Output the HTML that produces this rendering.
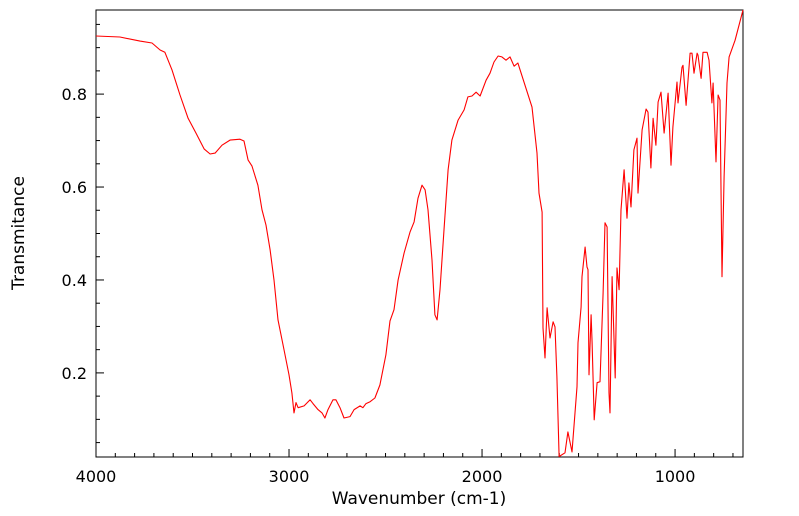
<!DOCTYPE html>
<html><head><meta charset="utf-8"><style>
body{margin:0;background:#fff;}
svg{display:block;font-family:"DejaVu Sans","Liberation Sans",sans-serif;}
</style></head><body>
<svg id="chart" width="799" height="516" viewBox="0 0 799 516"></svg>
<script>
const wavenumbers=[4000,3876,3772,3710,3668,3643,3606,3565,3523,3482,3440,3409,3383,3347,3306,3254,3233,3212,3192,3161,3140,3119,3098,3078,3057,3026,3000,2985,2974,2964,2953,2922,2891,2876,2850,2829,2814,2798,2772,2757,2736,2715,2684,2663,2632,2617,2601,2580,2555,2529,2498,2477,2456,2435,2404,2373,2352,2332,2311,2295,2280,2259,2244,2233,2218,2197,2176,2156,2124,2093,2073,2052,2031,2010,1979,1959,1938,1917,1897,1876,1855,1834,1814,1803,1741,1715,1705,1689,1684,1674,1663,1648,1632,1622,1612,1601,1570,1555,1534,1508,1503,1487,1482,1466,1456,1451,1446,1435,1430,1419,1404,1389,1373,1363,1352,1342,1337,1326,1310,1301,1290,1280,1264,1249,1239,1228,1213,1197,1192,1171,1150,1140,1125,1114,1099,1088,1073,1057,1036,1021,1011,990,985,964,959,943,922,912,902,886,881,865,855,834,824,809,803,788,777,767,757,746,731,720,689,648];
const transmittance=[0.925,0.923,0.914,0.910,0.895,0.890,0.852,0.798,0.748,0.716,0.682,0.671,0.673,0.690,0.701,0.703,0.699,0.658,0.645,0.604,0.551,0.518,0.465,0.400,0.314,0.250,0.196,0.157,0.114,0.136,0.125,0.129,0.142,0.134,0.121,0.114,0.103,0.121,0.142,0.142,0.125,0.103,0.106,0.121,0.129,0.125,0.134,0.138,0.146,0.174,0.239,0.312,0.336,0.400,0.458,0.503,0.525,0.576,0.604,0.594,0.551,0.443,0.325,0.314,0.379,0.508,0.637,0.701,0.744,0.766,0.794,0.796,0.804,0.796,0.830,0.845,0.869,0.882,0.880,0.873,0.880,0.860,0.867,0.852,0.772,0.673,0.587,0.546,0.297,0.232,0.340,0.275,0.310,0.299,0.192,0.020,0.028,0.073,0.030,0.170,0.265,0.342,0.407,0.471,0.428,0.422,0.196,0.325,0.265,0.099,0.179,0.181,0.372,0.523,0.514,0.157,0.114,0.407,0.189,0.426,0.379,0.551,0.637,0.533,0.609,0.557,0.680,0.705,0.587,0.723,0.768,0.761,0.641,0.748,0.690,0.783,0.804,0.716,0.802,0.647,0.729,0.826,0.781,0.858,0.862,0.776,0.888,0.888,0.845,0.888,0.884,0.834,0.890,0.890,0.873,0.781,0.824,0.654,0.798,0.787,0.407,0.622,0.824,0.880,0.916,0.981];
const xTickValues=[4000,3000,2000,1000];
const xTickLabels=["4000","3000","2000","1000"];
const yTickValues=[0.2,0.4,0.6,0.8];
const yTickLabels=["0.2","0.4","0.6","0.8"];

const L=96,R=743,T=10,B=457;
const X0=4000,X1=648,Y0=0.019,Y1=0.981;
const sx=v=>L+(X0-v)/(X0-X1)*(R-L);
const sy=v=>B-(v-Y0)/(Y1-Y0)*(B-T);
const svg=document.getElementById('chart');
const NS='http://www.w3.org/2000/svg';
function mk(tag,attrs){const e=document.createElementNS(NS,tag);for(const k in attrs)e.setAttribute(k,attrs[k]);svg.appendChild(e);return e;}

const frame=mk('rect',{x:L,y:T,width:R-L,height:B-T,fill:'none',stroke:'#000','stroke-width':1});



for(let w=4000;w>=700;w-=100){
  const major=w%1000===0;
  const t=mk('line',{x1:sx(w),x2:sx(w),y1:B,y2:B-(major?8:4),stroke:'#000','stroke-width':1});
  
  
}
xTickValues.forEach((v,i)=>{
  const t=mk('text',{x:sx(v),y:482,'text-anchor':'middle','font-size':16,fill:'#000'});
  t.textContent=xTickLabels[i];
  
  
});
for(let k=1;k<=19;k++){
  const v=k*0.05;
  if(v<Y0||v>Y1)continue;
  const major=k%4===0;
  const t=mk('line',{x1:L,x2:L+(major?8:4),y1:sy(v),y2:sy(v),stroke:'#000','stroke-width':1});
  
  
}
yTickValues.forEach((v,i)=>{
  const t=mk('text',{x:87,y:sy(v)+6,'text-anchor':'end','font-size':16,fill:'#000'});
  t.textContent=yTickLabels[i];
  
  
});
const xt=mk('text',{x:419,y:504,'text-anchor':'middle','font-size':17,fill:'#000'});
xt.textContent='Wavenumber (cm-1)';


const yt=mk('text',{x:0,y:0,'text-anchor':'middle','font-size':17,fill:'#000',transform:'translate(24,233) rotate(-90)'});
yt.textContent='Transmitance';



const d=wavenumbers.map((w,i)=>(i?'L':'M')+sx(w).toFixed(1)+','+sy(transmittance[i]).toFixed(1)).join(' ');
const line=mk('path',{d:d,fill:'none',stroke:'#ff0000','stroke-width':1.1,'stroke-linejoin':'round'});


</script>
</body></html>
